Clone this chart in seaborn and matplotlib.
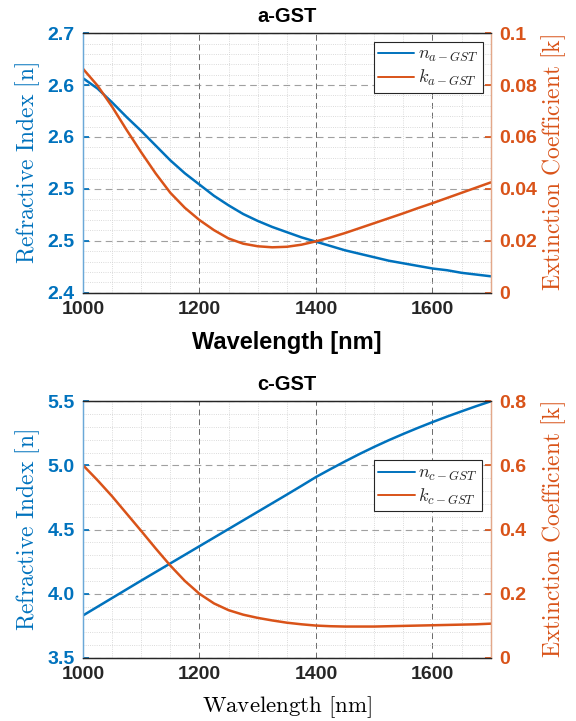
import numpy as np
import matplotlib
matplotlib.use("Agg")
import matplotlib.pyplot as plt
import seaborn as sns
from matplotlib.ticker import MultipleLocator, FormatStrFormatter, FixedLocator

# wavelength grid [nm]
wavelength = [1000, 1025, 1050, 1075, 1100, 1125, 1150, 1175, 1200, 1225, 1250, 1275,
              1300, 1325, 1350, 1375, 1400, 1425, 1450, 1475, 1500, 1525, 1550, 1575,
              1600, 1625, 1650, 1675, 1700]

# a-GST
n_a = [2.648, 2.636, 2.620, 2.603, 2.587, 2.570, 2.553, 2.538, 2.525, 2.512, 2.501, 2.491,
       2.483, 2.476, 2.470, 2.464, 2.459, 2.454, 2.449, 2.445, 2.441, 2.437, 2.434, 2.431,
       2.428, 2.426, 2.423, 2.421, 2.419]
k_a = [0.0863, 0.0798, 0.0717, 0.0627, 0.0541, 0.0459, 0.0385, 0.0327, 0.0280, 0.0241,
       0.0209, 0.0189, 0.0179, 0.0175, 0.0177, 0.0185, 0.0198, 0.0213, 0.0230, 0.0249,
       0.0268, 0.0287, 0.0306, 0.0326, 0.0345, 0.0365, 0.0385, 0.0405, 0.0425]

# c-GST
n_c = [3.831, 3.899, 3.967, 4.035, 4.103, 4.170, 4.237, 4.304, 4.371, 4.438, 4.505, 4.572,
       4.639, 4.706, 4.773, 4.841, 4.910, 4.972, 5.032, 5.090, 5.145, 5.197, 5.246, 5.293,
       5.338, 5.381, 5.422, 5.462, 5.500]
k_c = [0.601, 0.554, 0.504, 0.450, 0.396, 0.341, 0.288, 0.240, 0.200, 0.170, 0.149, 0.135,
       0.125, 0.117, 0.110, 0.105, 0.101, 0.099, 0.098, 0.098, 0.098, 0.099, 0.100, 0.101,
       0.102, 0.103, 0.104, 0.105, 0.107]

BLUE = "#0072BD"
ORANGE = "#D95319"

sns.set_theme(style="white")
plt.rcParams["font.family"] = ["Liberation Sans", "DejaVu Sans"]
plt.rcParams["mathtext.fontset"] = "cm"

fig = plt.figure(figsize=(5.76, 7.21), dpi=100)


def make_panel(rect, title, n, k, n_lab, k_lab, ylim_n, yticks_n, ylim_k, yticks_k,
               ystep_minor, xlabel, xlabel_bold, xlabel_y, legend_kw):
    ax = fig.add_axes(rect)
    ax2 = ax.twinx()
    sns.lineplot(x=wavelength, y=n, ax=ax, color=BLUE, lw=1.8, legend=False)
    sns.lineplot(x=wavelength, y=k, ax=ax2, color=ORANGE, lw=1.8, legend=False)

    ax.set_xlim(1000, 1700)
    ax.set_ylim(*ylim_n)
    ax2.set_ylim(*ylim_k)
    ax.xaxis.set_major_locator(FixedLocator([1000, 1200, 1400, 1600]))
    ax.xaxis.set_minor_locator(MultipleLocator(50))
    ax.yaxis.set_major_locator(FixedLocator(yticks_n))
    ax.yaxis.set_minor_locator(MultipleLocator(ystep_minor))
    ax.yaxis.set_major_formatter(FormatStrFormatter("%.1f"))
    ax2.yaxis.set_major_locator(FixedLocator(yticks_k))
    ax2.yaxis.set_major_formatter(FormatStrFormatter("%g"))

    # grid
    ax.grid(which="major", axis="x", color="#444444", ls=(0, (6, 4)), lw=0.7, alpha=0.8)
    ax.grid(which="major", axis="y", color="#888888", ls=(0, (6, 4)), lw=0.8, alpha=0.8)
    ax.grid(which="minor", color="#cfcfcf", ls=":", lw=0.6)
    ax.set_axisbelow(True)

    ax.tick_params(axis="x", which="major", direction="in", length=4, labelsize=14,
                   colors="#262626", pad=6)
    ax.tick_params(axis="y", which="major", direction="in", length=4, labelsize=14,
                   colors=BLUE, pad=6)
    ax.tick_params(which="minor", length=0)
    ax2.tick_params(axis="y", direction="in", length=4, labelsize=14, colors=ORANGE, pad=6)
    for lab in ax.get_xticklabels() + ax.get_yticklabels() + ax2.get_yticklabels():
        lab.set_fontweight("bold")

    for a in (ax, ax2):
        a.spines["top"].set_color("#262626")
        a.spines["bottom"].set_color("#262626")
        a.spines["left"].set_color("#6aa8d8")
        a.spines["right"].set_color("#e3a88a")
        for s in a.spines.values():
            s.set_linewidth(0.9)

    ax.set_ylabel(r"$\mathrm{Refractive\ Index\ [n]}$", color=BLUE, fontsize=17)
    ax.yaxis.set_label_coords(-0.10, 0.5)
    ax2.set_ylabel(r"$\mathrm{Extinction\ Coefficient\ [k]}$", color=ORANGE, fontsize=17)
    ax2.yaxis.set_label_coords(1.12, 0.5)
    if xlabel_bold:
        ax.set_xlabel(xlabel, fontsize=17, fontweight="bold", color="black")
    else:
        ax.set_xlabel(xlabel, fontsize=16.5, color="black")
    ax.xaxis.set_label_coords(0.5, xlabel_y)
    ax.set_title(title, fontsize=14.5, fontweight="bold", color="black", pad=8)

    handles = [ax.get_lines()[0], ax2.get_lines()[0]]
    leg = ax2.legend(handles, [n_lab, k_lab], fontsize=13, frameon=True, fancybox=False,
                     edgecolor="#262626", framealpha=1, handlelength=2.0, handletextpad=0.2,
                     borderpad=0.25, labelspacing=0.2, **legend_kw)
    leg.get_frame().set_linewidth(0.8)
    for line in leg.get_lines():
        line.set_linewidth(1.4)
    return ax, ax2


make_panel([0.144, 0.594, 0.708, 0.360], "a-GST", n_a, k_a,
           r"$n_{a-GST}$", r"$k_{a-GST}$",
           (2.4, 2.7), [2.4, 2.46, 2.52, 2.58, 2.64, 2.7],
           (0, 0.1), [0, 0.02, 0.04, 0.06, 0.08, 0.1], 0.012,
           "Wavelength [nm]", True, -0.148,
           dict(loc="upper right", bbox_to_anchor=(0.98, 0.967), borderaxespad=0))

make_panel([0.144, 0.0874, 0.708, 0.356], "c-GST", n_c, k_c,
           r"$n_{c-GST}$", r"$k_{c-GST}$",
           (3.5, 5.5), [3.5, 4.0, 4.5, 5.0, 5.5],
           (0, 0.8), [0, 0.2, 0.4, 0.6, 0.8], 0.1,
           r"$\mathrm{Wavelength\ [nm]}$", False, -0.14,
           dict(loc="upper right", bbox_to_anchor=(0.978, 0.77), borderaxespad=0))

fig.savefig("out.png", dpi=100)
